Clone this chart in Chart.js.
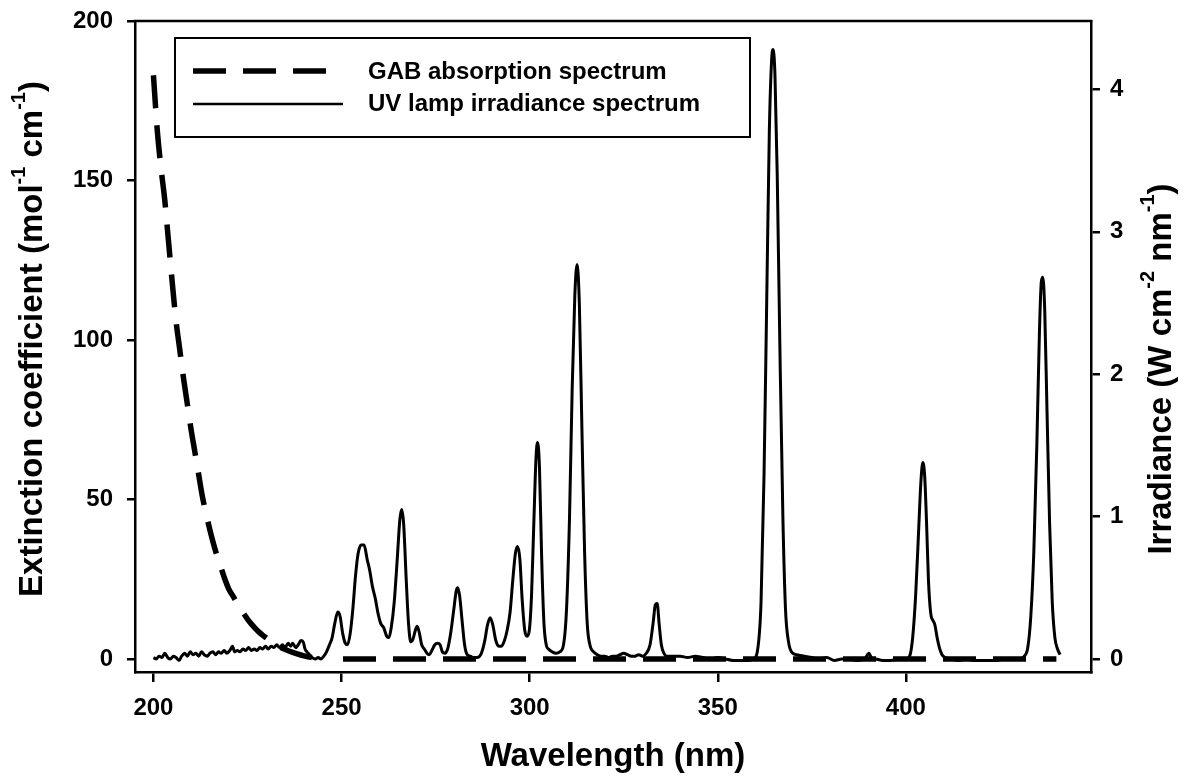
<!DOCTYPE html>
<html><head><meta charset="utf-8">
<script src="https://cdn.jsdelivr.net/npm/chart.js@4.4.1/dist/chart.umd.min.js"></script>
<style>html,body{margin:0;padding:0;background:#fff;}#wrap{width:1193px;height:783px;}</style>
</head><body><div id="wrap"><canvas id="c" width="1193" height="783"></canvas></div>
<script>
// ---- data ----
const gabWavelength = [200,201,202,203,204,205,206,207,208,209,210,211,212,213,214,215,216,217,218,219,220,221,222,223,224,225,226,227,228,229,230,232,234,236,238,240,242,244,246,260,300,350,400,440];
const gabExtinction = [183,166,154,144,131,118,106,97,88,80,72,65,58,51,45.5,40.5,36,32,28.5,25,22,20,18,16,14.2,12.5,11,9.7,8.5,7.5,6.6,4.8,3.5,2.5,1.7,1.0,0.5,0.2,0,0,0,0,0,0];

const lampWavelength = [200.0,200.8,201.5,202.3,203.0,203.8,204.5,205.3,206.0,206.8,207.5,208.3,209.0,209.8,210.5,211.3,212.0,212.8,213.5,214.3,215.0,215.8,216.5,217.3,218.0,218.8,219.5,220.3,221.0,221.6,222.3,223.0,223.8,224.5,225.3,226.0,226.8,227.5,228.3,229.0,229.8,230.5,231.3,232.0,232.8,233.5,234.3,235.0,235.8,236.5,237.0,237.8,238.5,239.2,239.8,240.3,240.8,241.5,242.2,243.0,243.8,244.5,245.3,246.0,246.8,247.5,248.2,249.0,249.6,250.3,251.0,251.6,252.3,253.0,253.7,254.4,255.2,256.0,256.8,257.5,258.2,259.0,259.7,260.4,261.2,262.0,262.6,263.2,264.0,264.8,265.5,266.0,266.5,267.2,267.8,268.4,269.0,269.6,270.1,270.7,271.3,272.0,272.7,273.3,274.0,274.8,275.5,276.2,276.8,277.5,278.3,279.0,279.8,280.5,280.9,281.4,282.0,282.7,283.4,284.2,285.0,286.0,287.0,288.0,288.8,289.5,290.2,291.0,291.8,292.5,293.3,294.0,294.8,295.5,296.2,296.8,297.4,298.0,298.7,299.3,299.9,300.5,301.1,301.7,302.1,302.6,303.2,303.8,304.4,305.0,306.0,307.0,308.0,309.0,309.8,310.6,311.3,312.0,312.6,313.2,313.9,314.6,315.3,316.0,317.0,318.0,319.0,320.0,321.0,322.0,323.0,324.0,325.0,326.0,327.0,328.0,329.0,330.0,331.0,332.0,332.8,333.4,333.9,334.4,335.0,335.7,336.5,338.0,340.0,342.0,344.0,346.0,348.0,350.0,352.0,354.0,356.0,358.0,359.5,360.5,361.5,362.3,363.0,363.7,364.3,364.7,365.2,365.8,366.5,367.3,368.0,368.8,369.6,371.0,373.0,375.0,377.0,379.0,381.0,383.0,385.0,387.0,389.0,390.2,390.8,392.0,394.0,396.0,398.0,400.0,401.0,401.8,402.6,403.3,404.0,404.5,405.0,405.5,406.0,406.6,407.2,407.7,408.3,408.9,409.6,410.5,412.0,414.0,416.0,418.0,420.0,422.0,424.0,426.0,428.0,430.0,431.5,432.4,433.2,434.0,434.8,435.5,436.0,436.4,436.9,437.5,438.2,438.9,439.6,440.3,441.0];
const lampIrradiance = [0.01,0.00,0.02,0.01,0.04,0.01,0.00,0.02,0.01,-0.01,0.02,0.04,0.02,0.05,0.03,0.04,0.02,0.05,0.03,0.02,0.04,0.05,0.03,0.05,0.04,0.06,0.04,0.06,0.09,0.05,0.06,0.05,0.07,0.06,0.08,0.06,0.07,0.06,0.08,0.07,0.09,0.07,0.09,0.08,0.10,0.08,0.10,0.08,0.11,0.09,0.11,0.08,0.10,0.13,0.12,0.07,0.05,0.03,0.01,0.00,0.01,0.00,0.02,0.05,0.10,0.15,0.25,0.33,0.30,0.18,0.11,0.10,0.18,0.35,0.58,0.74,0.80,0.80,0.70,0.62,0.51,0.42,0.32,0.25,0.22,0.16,0.15,0.22,0.40,0.70,0.98,1.05,0.95,0.55,0.25,0.12,0.14,0.20,0.23,0.18,0.10,0.07,0.04,0.03,0.06,0.10,0.11,0.10,0.05,0.04,0.08,0.18,0.34,0.48,0.50,0.44,0.28,0.10,0.03,0.02,0.01,0.01,0.03,0.12,0.24,0.29,0.24,0.13,0.09,0.09,0.13,0.20,0.33,0.55,0.74,0.79,0.70,0.42,0.20,0.16,0.20,0.45,0.95,1.42,1.52,1.35,0.70,0.25,0.10,0.07,0.05,0.04,0.05,0.10,0.35,1.00,1.90,2.55,2.77,2.50,1.60,0.75,0.25,0.10,0.05,0.03,0.02,0.02,0.01,0.02,0.02,0.03,0.04,0.03,0.02,0.02,0.03,0.02,0.04,0.10,0.25,0.38,0.39,0.25,0.10,0.04,0.02,0.02,0.02,0.01,0.02,0.01,0.00,0.01,0.00,-0.01,-0.01,-0.01,0.00,0.05,0.40,1.30,2.50,3.70,4.20,4.28,4.10,3.40,2.20,1.00,0.35,0.12,0.05,0.03,0.02,0.01,0.00,0.01,-0.01,0.00,0.00,-0.01,0.00,0.04,0.01,0.00,-0.01,-0.01,0.00,0.00,0.02,0.15,0.45,0.85,1.25,1.38,1.28,0.95,0.55,0.32,0.27,0.24,0.15,0.08,0.03,0.01,0.00,-0.01,0.00,-0.01,-0.01,-0.01,-0.01,0.00,0.00,0.00,0.02,0.08,0.30,0.75,1.50,2.30,2.65,2.68,2.45,1.75,0.95,0.40,0.15,0.07,0.03];

const xTicks = [200,250,300,350,400];
const leftTicks = [0,50,100,150,200];
const rightTicks = [0,1,2,3,4];
const legendLabels = ['GAB absorption spectrum','UV lamp irradiance spectrum'];
const xTitle = 'Wavelength (nm)';
const leftTitle = [['Extinction coefficient (mol',false],['-1',true],[' cm',false],['-1',true],[')',false]];
const rightTitle = [['Irradiance (W cm',false],['-2',true],[' nm',false],['-1',true],[')',false]];

// ---- chart ----
const FONT = '"Liberation Sans", Arial, Helvetica, sans-serif';
const DASH = [33,17];

function drawRich(ctx, parts, size) {
  const big = 'bold ' + size + 'px ' + FONT;
  const small = 'bold ' + Math.round(size*0.6) + 'px ' + FONT;
  let total = 0;
  parts.forEach(p => { ctx.font = p[1] ? small : big; total += ctx.measureText(p[0]).width; });
  let x = -total/2;
  ctx.textBaseline = 'middle';
  ctx.textAlign = 'left';
  parts.forEach(p => {
    ctx.font = p[1] ? small : big;
    ctx.fillText(p[0], x, p[1] ? -size*0.42 : 0);
    x += ctx.measureText(p[0]).width;
  });
}

const decor = {
  id: 'decor',
  afterDraw(chart) {
    const ctx = chart.ctx, a = chart.chartArea;
    ctx.save();
    ctx.fillStyle = '#000'; ctx.strokeStyle = '#000';
    ctx.lineWidth = 2.5;
    ctx.beginPath(); ctx.moveTo(a.left-1.25, a.top); ctx.lineTo(a.right+1.25, a.top); ctx.stroke();
    const lx = 175, ly = 38, lw = 575, lh = 99;
    ctx.lineWidth = 2;
    ctx.strokeRect(lx, ly, lw, lh);
    ctx.lineWidth = 5.5; ctx.setLineDash(DASH);
    ctx.beginPath(); ctx.moveTo(193, 71); ctx.lineTo(327, 71); ctx.stroke();
    ctx.setLineDash([]); ctx.lineWidth = 2.5;
    ctx.beginPath(); ctx.moveTo(193, 104); ctx.lineTo(343, 104); ctx.stroke();
    ctx.font = 'bold 24px ' + FONT; ctx.textBaseline = 'middle'; ctx.textAlign = 'left';
    ctx.fillText(legendLabels[0], 368, 72);
    ctx.fillText(legendLabels[1], 368, 104);
    ctx.font = 'bold 33px ' + FONT; ctx.textAlign = 'center'; ctx.textBaseline = 'middle';
    ctx.fillText(xTitle, (a.left + a.right)/2, 757);
    ctx.save(); ctx.translate(33, 339); ctx.rotate(-Math.PI/2); drawRich(ctx, leftTitle, 33); ctx.restore();
    ctx.save(); ctx.translate(1162, 369); ctx.rotate(-Math.PI/2); drawRich(ctx, rightTitle, 33); ctx.restore();
    ctx.restore();
  }
};

const tickFont = { family: FONT, weight: 'bold', size: 24 };
const axisCommon = (len) => ({
  grid: { drawOnChartArea: false, drawTicks: true, tickLength: len, color: '#000', lineWidth: 2.5 },
  border: { display: true, color: '#000', width: 2.5 }
});
const noPad = s => { s.paddingTop = 0; s.paddingBottom = 0; s.paddingLeft = 0; s.paddingRight = 0; };

new Chart(document.getElementById('c'), {
  type: 'line',
  data: {
    datasets: [
      {
        label: legendLabels[0],
        data: gabWavelength.map((w,i) => ({x: w, y: gabExtinction[i]})),
        yAxisID: 'y',
        borderColor: '#000', borderWidth: 5.5, borderDash: DASH, borderDashOffset: 0,
        pointRadius: 0, fill: false, cubicInterpolationMode: 'monotone',
        segment: { borderDashOffset: c => (c.p0.parsed.x >= 246 ? 33.5 : 0) }
      },
      {
        label: legendLabels[1],
        data: lampWavelength.map((w,i) => ({x: w, y: lampIrradiance[i]})),
        yAxisID: 'y2',
        borderColor: '#000', borderWidth: 3,
        pointRadius: 0, fill: false, cubicInterpolationMode: 'monotone'
      }
    ]
  },
  options: {
    responsive: false, animation: false, devicePixelRatio: 1,
    layout: { autoPadding: false, padding: { top: 21, left: 0, right: 0, bottom: 0 } },
    plugins: { legend: { display: false }, tooltip: { enabled: false } },
    scales: {
      x: {
        type: 'linear', position: 'bottom', min: 195.1, max: 449.2,
        ...axisCommon(10),
        ticks: { font: tickFont, color: '#000', padding: 12, maxRotation: 0, autoSkip: false },
        afterBuildTicks: s => { s.ticks = xTicks.map(v => ({value: v})); },
        afterFit: s => { s.height = 111; noPad(s); }
      },
      y: {
        type: 'linear', position: 'left', min: -4.08, max: 200,
        ...axisCommon(8),
        ticks: { font: tickFont, color: '#000', padding: 14 },
        afterBuildTicks: s => { s.ticks = leftTicks.map(v => ({value: v})); },
        afterFit: s => { s.width = 135; noPad(s); }
      },
      y2: {
        type: 'linear', position: 'right', min: -0.0914, max: 4.48,
        ...axisCommon(9),
        ticks: { font: tickFont, color: '#000', padding: 10 },
        afterBuildTicks: s => { s.ticks = rightTicks.map(v => ({value: v})); },
        afterFit: s => { s.width = 102; noPad(s); }
      }
    }
  },
  plugins: [decor]
});
</script></body></html>
